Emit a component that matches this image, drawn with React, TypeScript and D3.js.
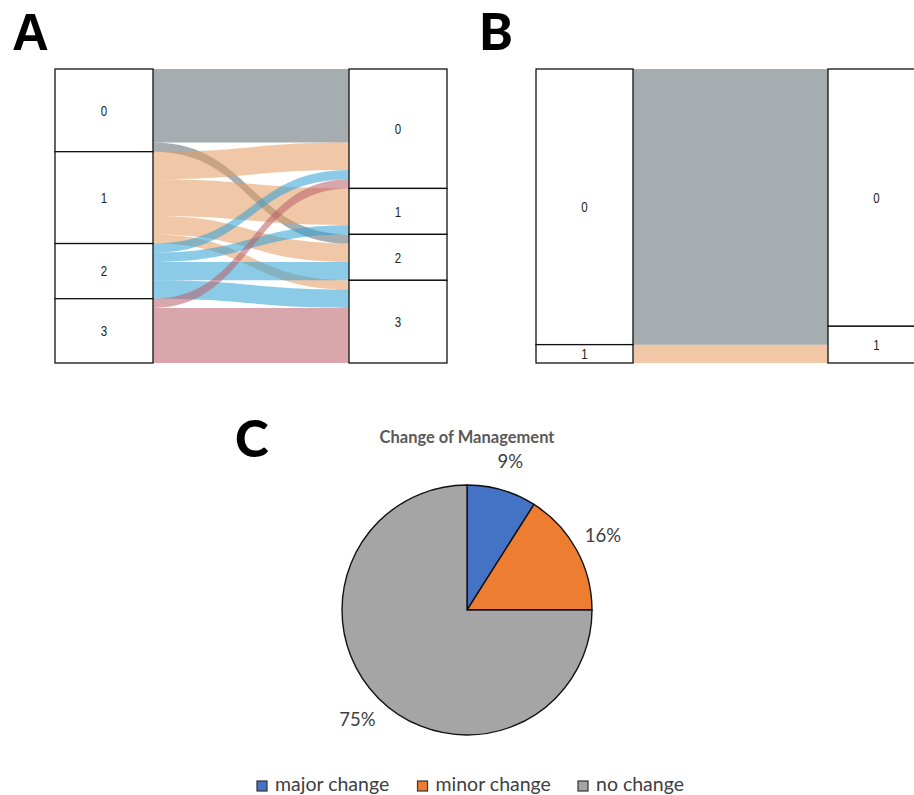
import React from 'react';
import * as d3 from 'd3';

// panel A: alluvial between two time points, stages 0-3
const stagesA = ['0', '1', '2', '3'];
const leftCountsA = [9, 10, 6, 7];
const rightCountsA = [13, 5, 5, 9];
const flowsA = [
  { from: 0, to: 0, n: 8 },
  { from: 0, to: 2, n: 1 },
  { from: 1, to: 0, n: 3 },
  { from: 1, to: 1, n: 4 },
  { from: 1, to: 2, n: 2 },
  { from: 1, to: 3, n: 1 },
  { from: 2, to: 0, n: 1 },
  { from: 2, to: 1, n: 1 },
  { from: 2, to: 2, n: 2 },
  { from: 2, to: 3, n: 2 },
  { from: 3, to: 0, n: 1 },
  { from: 3, to: 3, n: 6 },
];

// panel B
const stagesB = ['0', '1'];
const leftCountsB = [30, 2];
const rightCountsB = [28, 4];
const flowsB = [
  { from: 0, to: 0, n: 30 },
  { from: 1, to: 1, n: 2 },
];

// panel C
const pieLabels = ['major change', 'minor change', 'no change'];
const pieValues = [9, 16, 75];
const pieColors = ['#4472C4', '#ED7D31', '#A5A5A5'];

const flowColors = ['#5d6a6f', '#e49b61', '#2ea0d5', '#ba5d66'];

const Alluvial = ({ x0, x1, boxW, top, bottom, stages, leftCounts, rightCounts, flows }) => {
  const total = d3.sum(leftCounts);
  const y = d3.scaleLinear().domain([0, total]).range([top, bottom]);

  const stack = (counts) => {
    let acc = 0;
    return counts.map((c) => {
      const s = acc;
      acc += c;
      return [s, acc];
    });
  };
  const leftNodes = stack(leftCounts);
  const rightNodes = stack(rightCounts);

  // flow ends stacked on each side, ordered by node then by other node
  const leftOrder = flows.map((f, i) => i).sort((a, b) => flows[a].from - flows[b].from || flows[a].to - flows[b].to);
  const rightOrder = flows.map((f, i) => i).sort((a, b) => flows[a].to - flows[b].to || flows[a].from - flows[b].from);
  const lpos = [], rpos = [];
  let acc = 0;
  leftOrder.forEach((i) => { lpos[i] = [acc, acc + flows[i].n]; acc += flows[i].n; });
  acc = 0;
  rightOrder.forEach((i) => { rpos[i] = [acc, acc + flows[i].n]; acc += flows[i].n; });

  const xa = x0 + boxW;
  const xb = x1;
  const xm = (xa + xb) / 2;

  const ribbon = (i) => {
    const p = d3.path();
    const [l0, l1] = lpos[i].map(y);
    const [r0, r1] = rpos[i].map(y);
    p.moveTo(xa, l0);
    p.bezierCurveTo(xm, l0, xm, r0, xb, r0);
    p.lineTo(xb, r1);
    p.bezierCurveTo(xm, r1, xm, l1, xa, l1);
    p.closePath();
    return p.toString();
  };

  const label = (cx, cy, t, key) => (
    <text key={key} transform={`translate(${cx},${cy}) scale(1,1.3)`} textAnchor="middle" dy="0.35em"
      fontFamily="Liberation Sans, Arial, sans-serif" fontSize={11.5} fill="#222">{t}</text>
  );

  return (
    <g>
      {flows.map((f, i) => (
        <path key={i} d={ribbon(i)} fill={flowColors[f.from]} fillOpacity={0.55} />
      ))}
      {leftNodes.map(([a, b], i) => (
        <g key={'l' + i}>
          <rect x={x0} y={y(a)} width={boxW} height={y(b) - y(a)} fill="white" stroke="#111" strokeWidth={1.3} />
          {label(x0 + boxW / 2, (y(a) + y(b)) / 2, stages[i], 'lt' + i)}
        </g>
      ))}
      {rightNodes.map(([a, b], i) => (
        <g key={'r' + i}>
          <rect x={x1} y={y(a)} width={boxW} height={y(b) - y(a)} fill="white" stroke="#111" strokeWidth={1.3} />
          {label(x1 + boxW / 2, (y(a) + y(b)) / 2, stages[i], 'rt' + i)}
        </g>
      ))}
    </g>
  );
};

const Pie = () => {
  const cx = 467, cy = 610, r = 125;
  const arcs = d3.pie<number>().sort(null).value((d) => d)(pieValues);
  const arc = d3.arc<any>().innerRadius(0).outerRadius(r);
  const labelArc = d3.arc<any>().innerRadius(r + 30).outerRadius(r + 30);
  const font = 'Lato, Carlito, Calibri, sans-serif';
  return (
    <g>
      <text x={cx} y={443} textAnchor="middle" fontFamily={font} fontWeight={700} fontSize={16.5} fill="#595959">
        Change of Management
      </text>
      <g transform={`translate(${cx},${cy})`}>
        {arcs.map((a, i) => (
          <path key={i} d={arc(a)} fill={pieColors[i]} stroke="#111" strokeWidth={1.4} />
        ))}
        {arcs.map((a, i) => {
          const [lx, ly] = labelArc.centroid(a);
          return (
            <text key={'t' + i} x={lx} y={ly} textAnchor="middle" dy="0.35em" fontFamily={font} fontSize={18.5} fill="#404040">
              {d3.format('d')(pieValues[i])}%
            </text>
          );
        })}
      </g>
      {pieLabels.map((t, i) => (
        <g key={t} transform={`translate(${257 + i * 160.5},0)`}>
          <rect x={0} y={781} width={10} height={10} fill={pieColors[i]} stroke="#333" strokeWidth={1.2} />
          <text x={18} y={791} fontFamily={font} fontSize={19.5} fill="#404040">{t}</text>
        </g>
      ))}
    </g>
  );
};

export default function App() {
  return (
    <svg width={914} height={795} style={{ position: 'absolute', left: 0, top: 0, background: 'white' }}>
      <rect width={914} height={795} fill="white" />
      <text x={12} y={50} fontFamily="Liberation Sans, Arial, sans-serif" fontWeight={700} fontSize={51}>A</text>
      <text x={479} y={50} fontFamily="Lato, sans-serif" fontWeight={900} fontSize={51}>B</text>
      <text x={235} y={457} fontFamily="Lato, sans-serif" fontWeight={900} fontSize={51}>C</text>
      <Alluvial x0={55} x1={349} boxW={98} top={69} bottom={363} stages={stagesA}
        leftCounts={leftCountsA} rightCounts={rightCountsA} flows={flowsA} />
      <Alluvial x0={536} x1={828} boxW={97} top={69} bottom={363} stages={stagesB}
        leftCounts={leftCountsB} rightCounts={rightCountsB} flows={flowsB} />
      <Pie />
    </svg>
  );
}
